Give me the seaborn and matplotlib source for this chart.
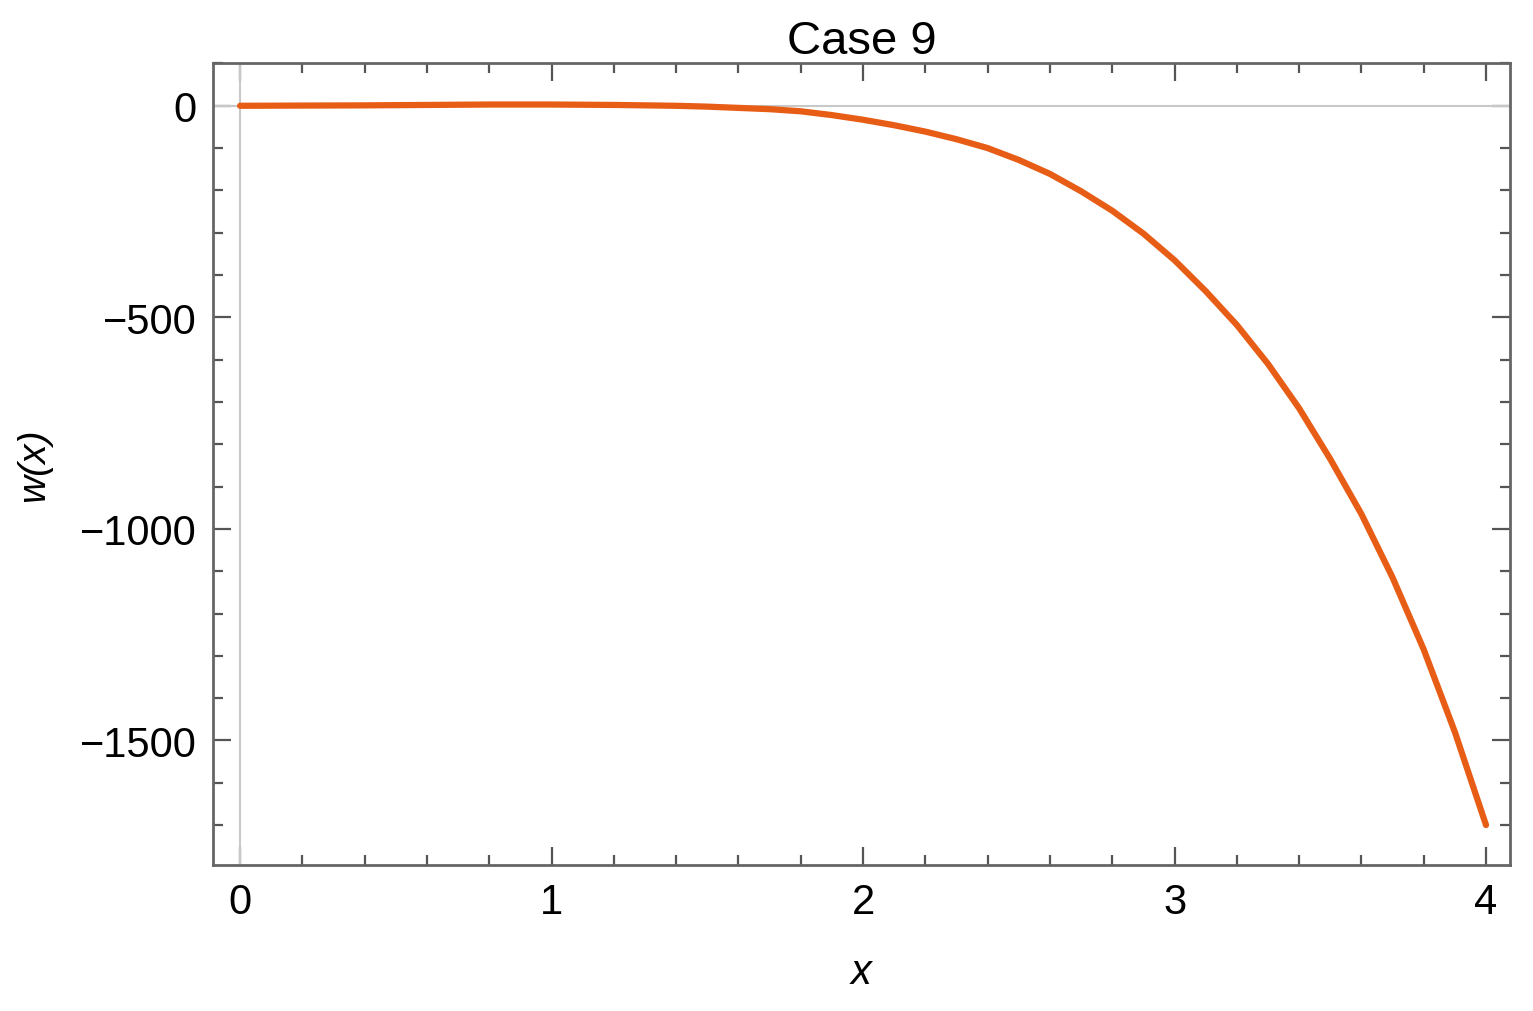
import numpy as np
import pandas as pd
import matplotlib
matplotlib.use("Agg")
import matplotlib.pyplot as plt
from matplotlib.ticker import MultipleLocator
import seaborn as sns

# valores
x_vals = [0.0, 0.2, 0.4, 0.6, 0.8, 1.0, 1.2, 1.4, 1.5, 1.6, 1.7, 1.8, 1.9, 2.0,
          2.1, 2.2, 2.3, 2.4, 2.5, 2.6, 2.7, 2.8, 2.9, 3.0, 3.1, 3.2, 3.3, 3.4,
          3.5, 3.6, 3.7, 3.8, 3.9, 4.0]
w_vals = [0, 0.5, 1, 2, 3, 3, 2, 0, -2, -5, -8, -13, -22, -33,
          -46, -61, -79, -100, -128, -161, -202, -248, -302, -365, -438, -518, -610, -715,
          -835, -965, -1115, -1285, -1480, -1700]
y_ticks = [0, -500, -1000, -1500]
y_labels = ["0", "\u2212500", "\u22121000", "\u22121500"]

df = pd.DataFrame({"x": x_vals, "w": w_vals})

sns.set_style("ticks")
plt.rcParams['font.family'] = ['Liberation Sans', 'DejaVu Sans']
plt.rcParams['text.color'] = 'black'
plt.rcParams['xtick.labelcolor'] = 'black'
plt.rcParams['ytick.labelcolor'] = 'black'
plt.rcParams['axes.labelcolor'] = 'black'

fig = plt.figure(figsize=(15.33, 10.12), dpi=100)
ax = fig.add_axes([0.139, 0.144, 0.846, 0.793])

# ejes en cero
ax.axhline(0, color="#c8c8c8", lw=1.5, zorder=1)
ax.axvline(0, color="#c8c8c8", lw=1.5, zorder=1)

sns.lineplot(data=df, x="x", y="w", ax=ax, color="#e85d16", lw=4.5, zorder=3)

ax.set_xlim(-0.0867, 4.077)
ax.set_ylim(-1795, 101.7)

ax.xaxis.set_major_locator(MultipleLocator(1))
ax.xaxis.set_minor_locator(MultipleLocator(0.2))
ax.yaxis.set_minor_locator(MultipleLocator(100))
ax.set_yticks(y_ticks)
ax.set_yticklabels(y_labels)

for s in ax.spines.values():
    s.set_color("#666666")
    s.set_linewidth(2)

ax.tick_params(which="both", direction="in", top=True, right=True, color="#555555", width=1.6)
ax.tick_params(which="major", length=13, labelsize=30, pad=12)
ax.tick_params(which="minor", length=7)

ax.set_title("Case 9", fontsize=34, pad=4)
ax.set_xlabel("x", fontsize=30, style="italic", labelpad=22)
ax.set_ylabel("w(x)", fontsize=28, style="italic", labelpad=20)

fig.savefig("out.png", dpi=100)
